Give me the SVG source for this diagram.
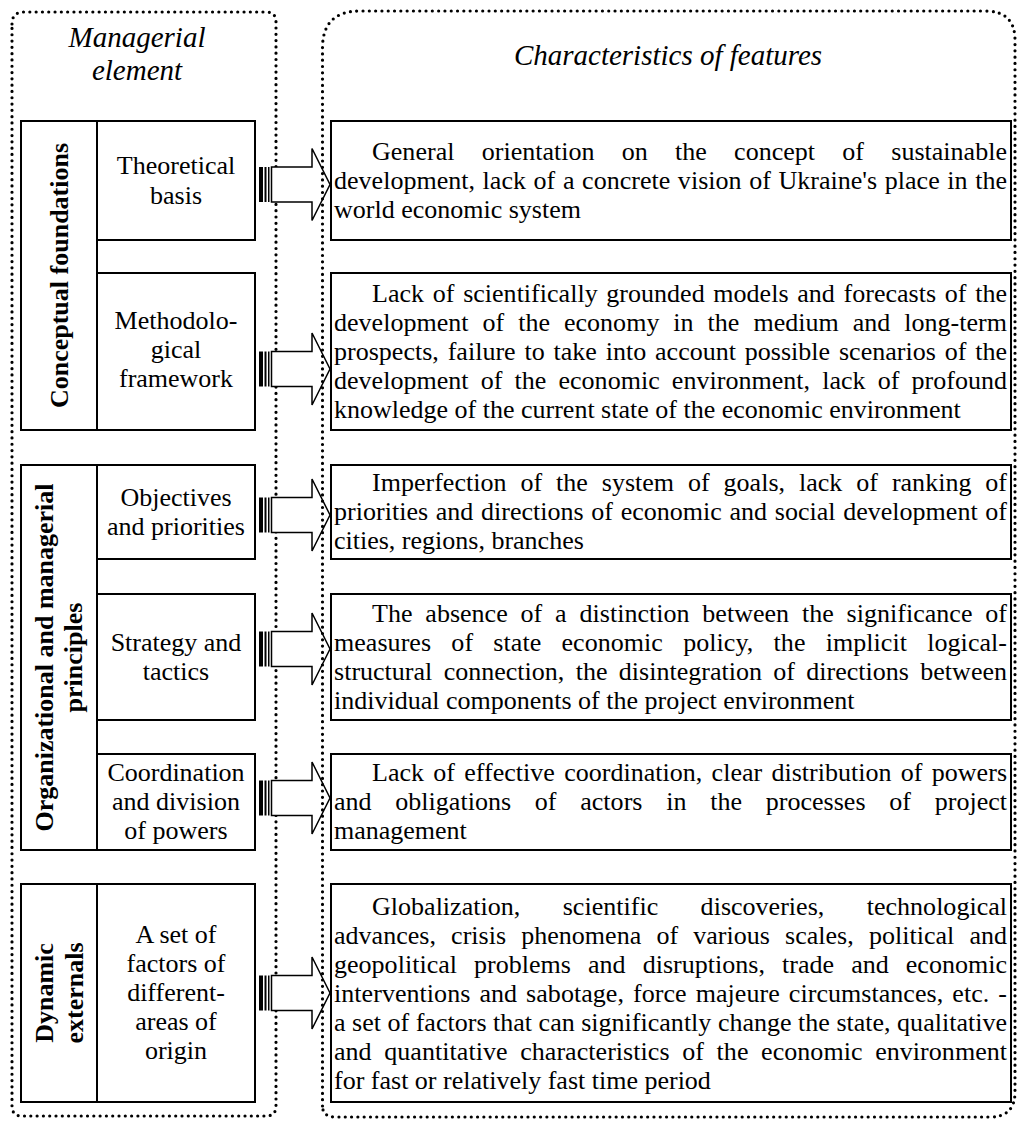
<svg xmlns="http://www.w3.org/2000/svg" width="1018" height="1121" viewBox="0 0 1018 1121">
<style>
.t{font-family:"Liberation Serif","Times New Roman",serif;font-size:26px;fill:#000}
.c{text-anchor:middle}
.b{font-weight:bold}
.i{font-style:italic;font-size:29px}
.box{fill:#fff;stroke:#000;stroke-width:2}
.fb{fill:#fff;stroke:#000;stroke-width:2}
.dot{fill:none;stroke:#000;stroke-width:3.2;stroke-dasharray:0 6.3;stroke-linecap:round}
.arr{fill:#fff;stroke:#000;stroke-width:1.5}
</style>
<defs>
<g id="arrow">
<rect x="259" y="-17.5" width="4" height="35" fill="#000"/>
<rect x="264.5" y="-17.5" width="2" height="35" fill="#000"/>
<rect x="268" y="-17.5" width="1.5" height="35" fill="#000"/>
<polygon class="arr" points="271.5,-17.5 312,-17.5 312,-36 330,0 312,36 312,17.5 271.5,17.5"/>
</g>
</defs>
<rect width="1018" height="1121" fill="#fff"/>

<g id="left-frame">
<path class="dot" d="M12,24 Q12,12 24,12 L266,12 Q276,12 276,22 L276,1106 Q276,1116 266,1116 L22,1116 Q12,1116 12,1106 Z"/>
<text class="t i c" x="137" y="47">Managerial</text>
<text class="t i c" x="137" y="80">element</text>
</g>

<g id="group-conceptual">
<rect class="box" x="21" y="121" width="76" height="309"/>
<text class="t b c" transform="translate(68,275.5) rotate(-90)">Conceptual foundations</text>
</g>
<g id="node-theoretical">
<rect class="box" x="97" y="121" width="158" height="119"/>
<text class="t c" x="176" y="174">Theoretical</text>
<text class="t c" x="176" y="204">basis</text>
</g>
<g id="node-methodological">
<rect class="box" x="97" y="273" width="158" height="157"/>
<text class="t c" x="176" y="329">Methodolo-</text>
<text class="t c" x="176" y="358">gical</text>
<text class="t c" x="176" y="387">framework</text>
</g>

<g id="group-organizational">
<rect class="box" x="21" y="465" width="76" height="385"/>
<text class="t b c" transform="translate(53,657.5) rotate(-90)">Organizational and managerial</text>
<text class="t b c" transform="translate(82,657.5) rotate(-90)">principles</text>
</g>
<g id="node-objectives">
<rect class="box" x="97" y="465" width="158" height="94"/>
<text class="t c" x="176" y="506">Objectives</text>
<text class="t c" x="176" y="535">and priorities</text>
</g>
<g id="node-strategy">
<rect class="box" x="97" y="594" width="158" height="126"/>
<text class="t c" x="176" y="651">Strategy and</text>
<text class="t c" x="176" y="680">tactics</text>
</g>
<g id="node-coordination">
<rect class="box" x="97" y="754" width="158" height="96"/>
<text class="t c" x="176" y="781">Coordination</text>
<text class="t c" x="176" y="810">and division</text>
<text class="t c" x="176" y="839">of powers</text>
</g>

<g id="group-dynamic">
<rect class="box" x="21" y="884" width="76" height="218"/>
<text class="t b c" transform="translate(53,993) rotate(-90)">Dynamic</text>
<text class="t b c" transform="translate(83,993) rotate(-90)">externals</text>
</g>
<g id="node-factors">
<rect class="box" x="97" y="884" width="158" height="218"/>
<text class="t c" x="176" y="943">A set of</text>
<text class="t c" x="176" y="972">factors of</text>
<text class="t c" x="176" y="1001">different-</text>
<text class="t c" x="176" y="1030">areas of</text>
<text class="t c" x="176" y="1059">origin</text>
</g>

<g id="connectors">
<use href="#arrow" y="184.5"/>
<use href="#arrow" y="369"/>
<use href="#arrow" y="515"/>
<use href="#arrow" y="649"/>
<use href="#arrow" y="798"/>
<use href="#arrow" y="993"/>
</g>

<g id="right-frame">
<path class="dot" d="M322.5,1106 L322.5,48 Q322.5,11 360,11 L985,11 Q1015,11 1015,40 L1015,1092 Q1015,1117 990,1117 L336,1117 Q322.5,1117 322.5,1106"/>
<text class="t i c" x="668" y="65">Characteristics of features</text>
</g>

<g id="feature-1">
<rect class="fb" x="331" y="121" width="680" height="119" stroke-width="3"/>
<text class="t" x="372" y="160" word-spacing="20.7" textLength="635" lengthAdjust="spacing">General orientation on the concept of sustainable</text>
<text class="t" x="334" y="189" word-spacing="1.1" textLength="673" lengthAdjust="spacing">development, lack of a concrete vision of Ukraine's place in the</text>
<text class="t" x="334" y="218">world economic system</text>
</g>
<g id="feature-2">
<rect class="fb" x="331" y="273" width="680" height="157"/>
<text class="t" x="372" y="302" word-spacing="2.2" textLength="635" lengthAdjust="spacing">Lack of scientifically grounded models and forecasts of the</text>
<text class="t" x="334" y="331" word-spacing="7.45" textLength="673" lengthAdjust="spacing">development of the economy in the medium and long-term</text>
<text class="t" x="334" y="360" word-spacing="2.3" textLength="673" lengthAdjust="spacing">prospects, failure to take into account possible scenarios of the</text>
<text class="t" x="334" y="389" word-spacing="5.6" textLength="673" lengthAdjust="spacing">development of the economic environment, lack of profound</text>
<text class="t" x="334" y="418">knowledge of the current state of the economic environment</text>
</g>
<g id="feature-3">
<rect class="fb" x="331" y="465" width="680" height="94"/>
<text class="t" x="372" y="491" word-spacing="7.4" textLength="635" lengthAdjust="spacing">Imperfection of the system of goals, lack of ranking of</text>
<text class="t" x="334" y="520" word-spacing="1.1" textLength="673" lengthAdjust="spacing">priorities and directions of economic and social development of</text>
<text class="t" x="334" y="549">cities, regions, branches</text>
</g>
<g id="feature-4">
<rect class="fb" x="331" y="594" width="680" height="126"/>
<text class="t" x="372" y="622" word-spacing="6.3" textLength="635" lengthAdjust="spacing">The absence of a distinction between the significance of</text>
<text class="t" x="334" y="651" word-spacing="13.7" textLength="673" lengthAdjust="spacing">measures of state economic policy, the implicit logical-</text>
<text class="t" x="334" y="680" word-spacing="4.8" textLength="673" lengthAdjust="spacing">structural connection, the disintegration of directions between</text>
<text class="t" x="334" y="709">individual components of the project environment</text>
</g>
<g id="feature-5">
<rect class="fb" x="331" y="754" width="680" height="96"/>
<text class="t" x="372" y="781" word-spacing="2.7" textLength="635" lengthAdjust="spacing">Lack of effective coordination, clear distribution of powers</text>
<text class="t" x="334" y="810" word-spacing="17.2" textLength="673" lengthAdjust="spacing">and obligations of actors in the processes of project</text>
<text class="t" x="334" y="839">management</text>
</g>
<g id="feature-6">
<rect class="fb" x="331" y="884" width="680" height="218"/>
<text class="t" x="372" y="915" word-spacing="35.9" textLength="635" lengthAdjust="spacing">Globalization, scientific discoveries, technological</text>
<text class="t" x="334" y="944" word-spacing="8.6" textLength="673" lengthAdjust="spacing">advances, crisis phenomena of various scales, political and</text>
<text class="t" x="334" y="973" word-spacing="10.5" textLength="673" lengthAdjust="spacing">geopolitical problems and disruptions, trade and economic</text>
<text class="t" x="334" y="1002" word-spacing="2.5" textLength="673" lengthAdjust="spacing">interventions and sabotage, force majeure circumstances, etc. -</text>
<text class="t" x="334" y="1031" textLength="673" lengthAdjust="spacing">a set of factors that can significantly change the state, qualitative</text>
<text class="t" x="334" y="1060" word-spacing="6.1" textLength="673" lengthAdjust="spacing">and quantitative characteristics of the economic environment</text>
<text class="t" x="334" y="1089">for fast or relatively fast time period</text>
</g>
</svg>
